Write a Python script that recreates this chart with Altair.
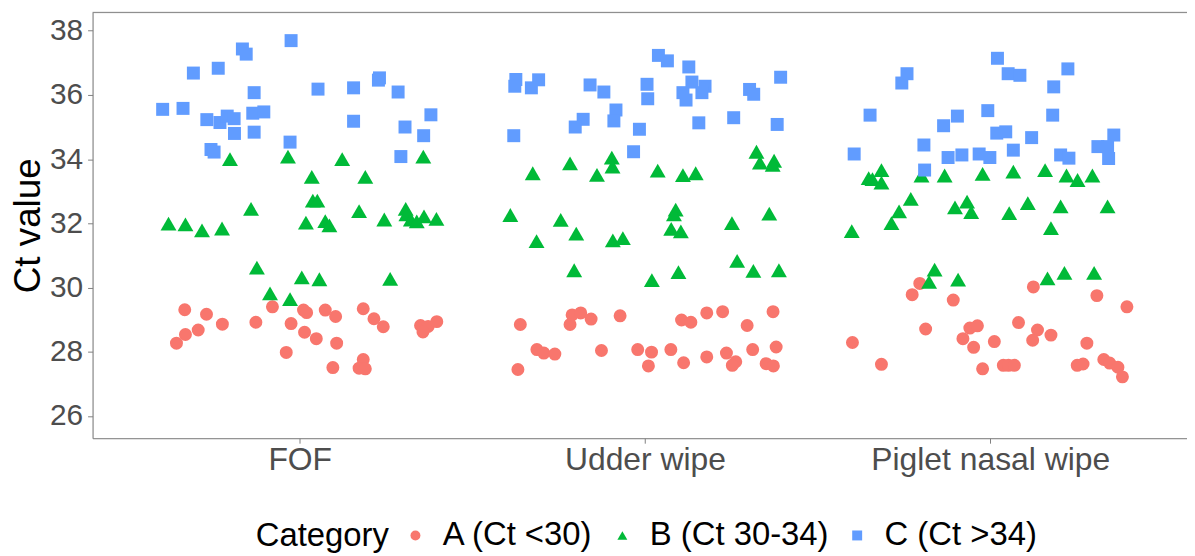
import altair as alt
import pandas as pd

samples = ["FOF", "Udder wipe", "Piglet nasal wipe"]
categories = ["A (Ct <30)", "B (Ct 30-34)", "C (Ct >34)"]
colors = ["#F8766D", "#00BA38", "#619CFF"]
shapes = ["circle", "triangle-up", "square"]

# ---- FOF ----
fof_a_ct = [29.31, 29.17, 28.86, 28.68, 28.54, 28.27, 28.92, 29.40, 28.88, 29.30, 29.22, 28.61, 28.41, 29.30,
            29.10, 28.27, 27.98, 27.51, 29.34, 29.03, 28.78, 27.76, 27.49, 27.47, 28.82, 28.79, 28.94, 28.62]
fof_a_jit = [-0.333, -0.270, -0.224, -0.294, -0.331, -0.357, -0.127, -0.079, -0.025, 0.011, 0.020, 0.014, 0.048, 0.074,
             0.104, 0.107, -0.039, 0.096, 0.184, 0.215, 0.242, 0.184, 0.172, 0.190, 0.350, 0.372, 0.397, 0.357]
fof_b_ct = [34.00, 34.08, 34.00, 34.08, 33.45, 33.45, 32.71, 32.71, 32.45, 32.38, 32.45, 31.99, 31.97, 31.78, 31.84,
            32.02, 32.07, 31.94, 32.12, 32.28, 32.12, 32.06, 32.22, 32.14, 30.62, 30.32, 30.26, 30.27, 29.82, 29.64]
fof_b_jit = [-0.202, -0.034, 0.123, 0.358, 0.035, 0.190, 0.038, 0.051, -0.141, 0.172, 0.307, -0.380, -0.331, -0.283, -0.225,
             0.018, 0.074, 0.086, 0.245, 0.309, 0.322, 0.339, 0.360, 0.396, -0.124, 0.006, 0.057, 0.262, -0.086, -0.028]
fof_c_ct = [37.69, 37.43, 37.27, 36.68, 36.83, 36.07, 36.18, 36.22, 36.53, 36.46, 36.09, 35.55, 35.58, 35.23, 35.14,
            35.34, 35.26, 35.43, 35.47, 35.18, 35.38, 34.80, 34.84, 34.53, 35.00, 34.73, 34.30, 34.22, 34.08]
fof_c_jit = [-0.025, -0.166, -0.155, -0.308, -0.236, -0.132, 0.053, 0.156, 0.231, 0.228, 0.285, -0.397, -0.338, -0.269, -0.231,
             -0.210, -0.190, -0.136, -0.104, 0.156, 0.380, -0.189, -0.132, -0.028, 0.305, 0.359, -0.257, -0.248, 0.293]

# ---- Udder wipe ----
udder_a_ct = [28.85, 27.45, 28.07, 27.96, 27.93, 29.15, 29.21, 28.85, 29.02, 29.12, 28.04, 28.07, 27.99, 27.56, 28.07,
              28.99, 28.92, 27.66, 29.21, 29.25, 27.84, 27.96, 27.69, 27.58, 28.82, 28.07, 29.25, 28.15, 27.63, 27.56]
udder_a_jit = [-0.361, -0.368, -0.313, -0.293, -0.261, -0.211, -0.186, -0.217, -0.156, -0.072, -0.126, -0.021, 0.019, 0.010, 0.075,
               0.106, 0.133, 0.112, 0.179, 0.225, 0.179, 0.236, 0.263, 0.253, 0.296, 0.312, 0.371, 0.380, 0.351, 0.372]
udder_b_ct = [33.56, 33.87, 34.05, 33.77, 33.51, 33.64, 33.50, 33.56, 34.23, 33.89, 33.95, 33.82, 32.26, 32.11, 31.68,
              31.45, 31.47, 31.54, 32.43, 32.28, 31.83, 31.75, 32.01, 32.30, 30.54, 30.23, 30.48, 30.83, 30.52, 30.54]
udder_b_jit = [-0.325, -0.217, -0.096, -0.094, -0.139, 0.037, 0.110, 0.147, 0.323, 0.333, 0.374, 0.370, -0.390, -0.244, -0.199,
               -0.314, -0.093, -0.064, 0.089, 0.084, 0.076, 0.104, 0.252, 0.360, -0.205, 0.020, 0.097, 0.267, 0.314, 0.388]
udder_c_ct = [36.48, 36.27, 36.47, 36.22, 36.31, 36.09, 35.53, 35.19, 35.24, 35.00, 36.33, 35.88, 34.93, 34.73, 37.23,
              37.06, 36.87, 36.40, 36.07, 35.84, 36.27, 36.07, 35.13, 35.29, 36.17, 36.02, 36.55, 35.08, 34.23]
udder_c_jit = [-0.374, -0.377, -0.308, -0.329, -0.159, -0.119, -0.084, -0.090, -0.179, -0.202, 0.006, 0.008, -0.016, -0.380, 0.039,
               0.065, 0.127, 0.136, 0.110, 0.119, 0.174, 0.165, 0.156, 0.257, 0.303, 0.315, 0.393, 0.383, -0.033]

# ---- Piglet nasal wipe ----
piglet_a_ct = [28.29, 27.61, 30.13, 29.78, 29.61, 28.71, 28.74, 28.81, 28.41, 28.14, 28.32, 27.47, 27.58, 27.58, 27.58,
               28.91, 28.68, 28.36, 28.52, 30.02, 29.75, 29.40, 28.27, 27.58, 27.62, 27.76, 27.65, 27.52, 27.22]
piglet_a_jit = [-0.399, -0.315, -0.204, -0.226, -0.107, -0.187, -0.059, -0.037, -0.079, -0.048, 0.012, -0.022, 0.038, 0.053, 0.070,
                0.082, 0.137, 0.123, 0.176, 0.125, 0.309, 0.396, 0.280, 0.252, 0.269, 0.329, 0.346, 0.370, 0.383]
piglet_b_ct = [31.76, 33.41, 33.38, 33.66, 33.27, 33.49, 33.49, 33.54, 33.61, 33.66, 33.49, 33.35, 33.49, 32.76, 32.37,
               32.01, 32.50, 32.68, 32.35, 32.32, 32.63, 32.53, 32.53, 31.85, 30.56, 30.18, 30.25, 30.29, 30.46, 30.46]
piglet_b_jit = [-0.401, -0.352, -0.341, -0.315, -0.315, -0.199, -0.132, -0.022, 0.067, 0.159, 0.221, 0.253, 0.296, -0.230, -0.264,
                -0.286, -0.102, -0.067, -0.055, 0.055, 0.109, 0.204, 0.340, 0.176, -0.161, -0.177, -0.093, 0.166, 0.215, 0.301]
piglet_c_ct = [37.14, 36.66, 36.61, 36.81, 36.25, 35.37, 36.66, 36.37, 35.37, 35.51, 35.34, 35.04, 34.81, 34.85, 34.67,
               34.75, 34.44, 34.39, 34.39, 34.16, 34.05, 34.13, 34.16, 34.05, 34.28, 34.13, 34.03, 34.02, 33.66]
piglet_c_jit = [0.021, 0.052, 0.086, 0.225, 0.184, 0.181, -0.241, -0.256, -0.348, -0.007, -0.095, -0.135, 0.019, 0.045, 0.120,
                0.358, -0.192, 0.312, 0.340, -0.394, -0.122, -0.082, -0.032, -0.001, 0.067, 0.204, 0.228, 0.343, -0.190]

groups = [
    (0, 0, fof_a_ct, fof_a_jit), (0, 1, fof_b_ct, fof_b_jit), (0, 2, fof_c_ct, fof_c_jit),
    (1, 0, udder_a_ct, udder_a_jit), (1, 1, udder_b_ct, udder_b_jit), (1, 2, udder_c_ct, udder_c_jit),
    (2, 0, piglet_a_ct, piglet_a_jit), (2, 1, piglet_b_ct, piglet_b_jit), (2, 2, piglet_c_ct, piglet_c_jit),
]

rows = []
for si, ci, cts, jits in groups:
    for ct, j in zip(cts, jits):
        rows.append({"Sample": samples[si], "pos": si + 1 + j, "ct": ct, "Category": categories[ci]})
df = pd.DataFrame(rows)

label_expr = " : ".join(
    [f"datum.value == {i + 1} ? '{s}'" for i, s in enumerate(samples[:-1])] + [f"'{samples[-1]}'"]
)

W, H = 1100, 428
grey = "#808080"

legend = alt.Legend(
    title="Category", orient="none", legendX=164, legendY=509, direction="horizontal",
    titleOrient="left", titleFontSize=33, titleFontWeight="normal", titleColor="black",
    labelFontSize=33, labelColor="black", labelLimit=500, symbolSize=100, symbolStrokeWidth=0,
    symbolOpacity=1, labelOffset=11, columnPadding=12, titlePadding=10,
)

points = alt.Chart(df).transform_calculate(
    sz=f"datum.Category == '{categories[1]}' ? 256 : 170"
).mark_point(filled=True, opacity=1, strokeWidth=0).encode(
    x=alt.X("pos:Q", scale=alt.Scale(domain=[0.4, 0.4 + W / 347.0], nice=False, zero=False),
            axis=alt.Axis(values=[1, 2, 3], labelExpr=label_expr, title=None, grid=False,
                          labelFontSize=32, labelColor="#4D4D4D", labelPadding=1, tickSize=5,
                          labelLimit=600, tickColor=grey, domainColor=grey)),
    y=alt.Y("ct:Q", scale=alt.Scale(domain=[25.31, 38.57], nice=False, zero=False),
            axis=alt.Axis(values=list(range(26, 39, 2)), title="Ct value", grid=False,
                          labelFontSize=30, labelColor="#4D4D4D", labelPadding=5, tickSize=5,
                          tickColor=grey, domainColor=grey, titleFontSize=37, titleFontWeight="normal",
                          titleColor="black", titleX=-64, titleY=H / 2, titleBaseline="middle")),
    color=alt.Color("Category:N", scale=alt.Scale(domain=categories, range=colors), legend=legend),
    shape=alt.Shape("Category:N", scale=alt.Scale(domain=categories, range=shapes), legend=legend),
    size=alt.Size("sz:Q", scale=None),
)

top_border = alt.Chart(pd.DataFrame({"k": [0]})).mark_rule(color=grey, strokeWidth=1).encode(
    x=alt.value(0), x2=alt.value(W), y=alt.value(0)
)

chart = alt.layer(top_border, points).properties(
    width=W, height=H,
    padding={"left": 85, "top": 3, "right": 0, "bottom": 116},
    autosize=alt.AutoSizeParams(type="none"),
).configure_view(stroke=None).configure(font="Liberation Sans")

chart.save("out.html", embed_options={"renderer": "svg", "actions": False})
